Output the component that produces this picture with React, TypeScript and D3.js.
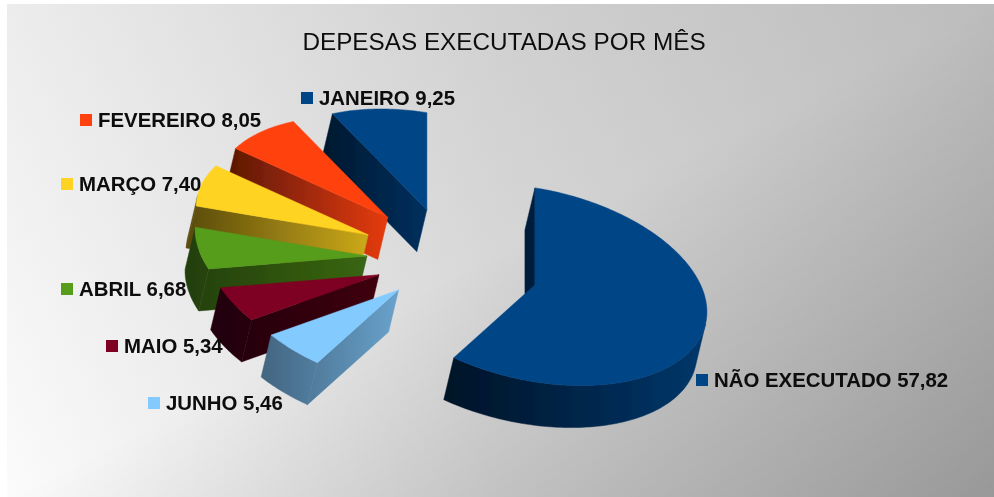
import React, { useEffect, useRef } from 'react';
import * as d3 from 'd3';

// ring order, clockwise from 12 o'clock
const categories = ['NÃO EXECUTADO', 'JUNHO', 'MAIO', 'ABRIL', 'MARÇO', 'FEVEREIRO', 'JANEIRO'];
const values = [57.82, 5.46, 5.34, 6.68, 7.4, 8.05, 9.25];
const valueLabels = ['57,82', '5,46', '5,34', '6,68', '7,40', '8,05', '9,25'];

const palette = ['#004586', '#83caff', '#7e0021', '#579d1c', '#ffd320', '#ff420e', '#004586'];
// how far the wall colour goes towards black, left end and right end
const wallShade = [[0.72, 0.2], [0.5, 0.2], [0.75, 0.5], [0.6, 0.35], [0.65, 0.2], [0.65, 0.1], [0.65, 0.3]];
// legend square corner per slice
const legendAt = [[696, 374], [148, 397], [106, 340], [61, 283], [61, 178], [80, 114], [301, 92]];

const width = 994;
const height = 497;
const origin = { x: 451.5, y: 260 };
const rx = 172;
const ry = 97;
const shear = 27;
const explode = 0.5;
const depth = { x: -10, y: 42 };

const project = (a: number, r: number): [number, number] => [
  rx * r * Math.sin(a),
  r * (-ry * Math.cos(a) + shear * Math.sin(a)),
];

const App = () => {
  const svgRef = useRef<SVGSVGElement>(null);

  useEffect(() => {
    const svg = d3.select(svgRef.current);
    svg.selectAll('*').remove();
    svg.attr('viewBox', `0 0 ${width} ${height}`);

    const defs = svg.append('defs');
    const blur = defs.append('filter').attr('id', 'soft');
    blur.append('feGaussianBlur').attr('stdDeviation', 0.45);

    // background: a horizontal ramp, darkened towards two opposite corners
    const bgA = defs.append('linearGradient').attr('id', 'bgA');
    bgA.append('stop').attr('offset', 0).attr('stop-color', '#fbfbfb');
    bgA.append('stop').attr('offset', 0.5).attr('stop-color', '#d6d6d6');
    bgA.append('stop').attr('offset', 1).attr('stop-color', '#bcbcbc');
    const bgB = defs.append('linearGradient').attr('id', 'bgB').attr('x1', 0).attr('y1', 0).attr('x2', 1).attr('y2', 1);
    bgB.append('stop').attr('offset', 0).attr('stop-color', '#000').attr('stop-opacity', 0.06);
    bgB.append('stop').attr('offset', 0.5).attr('stop-color', '#000').attr('stop-opacity', 0);
    bgB.append('stop').attr('offset', 1).attr('stop-color', '#000').attr('stop-opacity', 0.19);

    svg.append('rect').attr('x', 7).attr('y', 4).attr('width', width - 7).attr('height', height - 4).attr('fill', 'url(#bgA)');
    svg.append('rect').attr('x', 7).attr('y', 4).attr('width', width - 7).attr('height', height - 4).attr('fill', 'url(#bgB)');

    const pie = d3.pie<number>().sort(null).value(d => d);
    const arcs = pie(values);

    const line = d3.line();
    const g = svg.append('g').attr('filter', 'url(#soft)');

    // back to front: big slice, then January round to June
    const order = [0, ...d3.range(arcs.length - 1, 0, -1)];

    order.forEach(i => {
      const arc = arcs[i];
      const mid = (arc.startAngle + arc.endAngle) / 2;
      const [ox, oy] = project(mid, explode);
      const apex: [number, number] = [origin.x + ox, origin.y + oy];
      const pt = (a: number): [number, number] => {
        const [x, y] = project(a, 1);
        return [apex[0] + x, apex[1] + y];
      };
      const down = (p: [number, number]): [number, number] => [p[0] + depth.x, p[1] + depth.y];

      const steps = Math.ceil((arc.endAngle - arc.startAngle) / 0.02);
      const angles = d3.range(steps + 1).map(k => arc.startAngle + ((arc.endAngle - arc.startAngle) * k) / steps);
      const rim = angles.map(pt);

      const xs = [apex[0], ...rim.map(p => p[0])];
      const shadeId = `wall${i}`;
      const grad = defs.append('linearGradient').attr('id', shadeId)
        .attr('gradientUnits', 'userSpaceOnUse')
        .attr('x1', d3.min(xs)! + depth.x).attr('x2', d3.max(xs)!).attr('y1', 0).attr('y2', 0);
      const toBlack = d3.interpolateRgb(palette[i], '#000');
      grad.append('stop').attr('offset', 0).attr('stop-color', toBlack(wallShade[i][0]));
      grad.append('stop').attr('offset', 1).attr('stop-color', toBlack(wallShade[i][1]));

      const wall = (pts: [number, number][]) =>
        g.append('path').attr('d', line([...pts, ...pts.map(down).reverse()])! + 'Z')
          .attr('fill', `url(#${shadeId})`).attr('stroke', `url(#${shadeId})`).attr('stroke-width', 0.5);

      // only faces turned towards the viewer
      const side = (a: [number, number], b: [number, number], p: [number, number]) =>
        (b[0] - a[0]) * (p[1] - a[1]) - (b[1] - a[1]) * (p[0] - a[0]);

      [arc.startAngle, arc.endAngle].forEach(a => {
        const end = pt(a);
        const inner = pt(a === arc.startAngle ? Math.min(a + 0.1, mid) : Math.max(a - 0.1, mid));
        if (side(apex, end, inner) * side(apex, end, down(apex)) < 0) wall([apex, end]);
      });

      // rim wall as one polygon per visible run, so no seams show
      let run: [number, number][] = [];
      d3.pairs(rim).forEach(([a, b]) => {
        if (side(a, b, apex) * side(a, b, down(a)) < 0) {
          if (!run.length) run.push(a);
          run.push(b);
        } else if (run.length) {
          wall(run);
          run = [];
        }
      });
      if (run.length) wall(run);

      g.append('path').attr('d', line([apex, ...rim])! + 'Z')
        .attr('fill', palette[i]).attr('stroke', palette[i]).attr('stroke-width', 0.5);
    });

    const labels = svg.append('g').attr('filter', 'url(#soft)');

    labels.append('text')
      .attr('x', 504).attr('y', 50)
      .attr('text-anchor', 'middle')
      .attr('font-family', '"Liberation Sans", Arial, sans-serif')
      .attr('font-size', 24.3)
      .attr('fill', '#111')
      .text('DEPESAS EXECUTADAS POR MÊS');

    categories.forEach((c, i) => {
      const [lx, ly] = legendAt[i];
      labels.append('rect').attr('x', lx).attr('y', ly).attr('width', 12).attr('height', 12).attr('fill', palette[i]);
      labels.append('text')
        .attr('x', lx + 18).attr('y', ly + 13)
        .attr('font-family', '"Liberation Sans", Arial, sans-serif')
        .attr('font-weight', 'bold')
        .attr('font-size', 20.4)
        .attr('fill', '#0a0a0a')
        .text(`${c} ${valueLabels[i]}`);
    });
  }, []);

  return <svg ref={svgRef} width={width} height={height} style={{ position: 'absolute', left: 0, top: 0, background: '#fff' }} />;
};

export default App;
